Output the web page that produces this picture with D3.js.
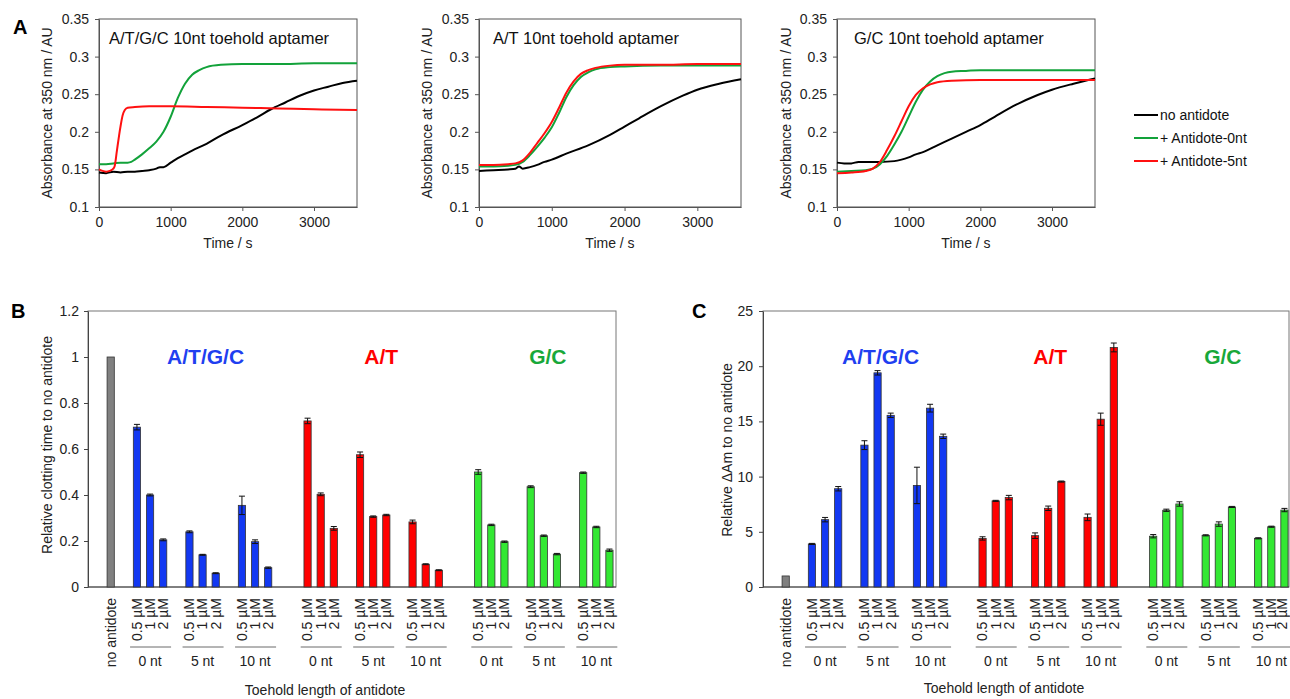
<!DOCTYPE html>
<html><head><meta charset="utf-8">
<script src="https://cdn.jsdelivr.net/npm/d3@7"></script>
<style>body{margin:0;background:#fff}svg{display:block;font-family:"Liberation Sans",Arial,sans-serif}</style>
</head><body><svg id="c" width="1290" height="699"></svg>
<script>
// ---------- Panel A data: [time s, absorbance] ----------
const a1Black=[[0,0.146],[100,0.145],[200,0.147],[300,0.146],[400,0.147],[500,0.147],[600,0.148],[700,0.149],[800,0.151],[850,0.153],[900,0.153],[1000,0.159],[1100,0.165],[1200,0.170],[1300,0.175],[1500,0.184],[1700,0.195],[2000,0.209],[2200,0.219],[2400,0.230],[2600,0.239],[2800,0.248],[3000,0.255],[3200,0.260],[3400,0.265],[3600,0.268]];
const a1Green=[[0,0.157],[100,0.157],[200,0.158],[300,0.159],[400,0.159],[450,0.160],[500,0.163],[600,0.170],[700,0.178],[800,0.187],[900,0.200],[1000,0.220],[1100,0.245],[1200,0.264],[1300,0.276],[1400,0.282],[1500,0.286],[1700,0.289],[2000,0.290],[2500,0.290],[3000,0.291],[3600,0.291]];
const a1Red=[[0,0.150],[50,0.148],[100,0.147],[150,0.148],[200,0.151],[220,0.155],[250,0.175],[280,0.195],[300,0.207],[330,0.222],[360,0.229],[400,0.232],[500,0.233],[700,0.234],[1000,0.234],[1500,0.233],[2000,0.232],[2500,0.231],[3000,0.230],[3600,0.229]];
const a2Black=[[0,0.148],[200,0.149],[400,0.150],[500,0.151],[550,0.154],[600,0.151],[700,0.153],[800,0.156],[900,0.160],[1000,0.163],[1200,0.171],[1500,0.182],[1800,0.196],[2000,0.207],[2200,0.218],[2500,0.234],[2800,0.248],[3000,0.256],[3300,0.264],[3600,0.270]];
const a2Red=[[0,0.156],[200,0.156],[400,0.157],[500,0.158],[600,0.162],[700,0.172],[800,0.185],[900,0.198],[1000,0.213],[1100,0.232],[1200,0.252],[1300,0.267],[1400,0.277],[1500,0.282],[1600,0.285],[1800,0.288],[2000,0.289],[2500,0.289],[3000,0.290],[3600,0.290]];
const a2Green=[[0,0.154],[200,0.154],[400,0.155],[500,0.156],[600,0.160],[700,0.169],[800,0.180],[900,0.192],[1000,0.206],[1100,0.225],[1200,0.246],[1300,0.262],[1400,0.273],[1500,0.279],[1600,0.283],[1800,0.286],[2000,0.287],[2500,0.288],[3000,0.288],[3600,0.288]];
const a3Black=[[0,0.159],[100,0.158],[200,0.158],[300,0.160],[400,0.160],[600,0.160],[800,0.161],[900,0.163],[1000,0.166],[1100,0.170],[1200,0.173],[1400,0.182],[1600,0.191],[1800,0.200],[2000,0.209],[2200,0.220],[2500,0.236],[2800,0.249],[3000,0.256],[3300,0.264],[3600,0.271]];
const a3Red=[[0,0.145],[200,0.146],[400,0.148],[500,0.151],[600,0.160],[700,0.176],[800,0.194],[900,0.214],[1000,0.234],[1100,0.249],[1200,0.258],[1300,0.263],[1400,0.266],[1600,0.268],[2000,0.269],[3000,0.269],[3600,0.269]];
const a3Green=[[0,0.147],[200,0.148],[400,0.149],[500,0.151],[600,0.157],[700,0.168],[800,0.183],[900,0.200],[1000,0.220],[1100,0.240],[1200,0.256],[1300,0.267],[1400,0.274],[1500,0.278],[1600,0.280],[1800,0.281],[2000,0.282],[3000,0.282],[3600,0.282]];
const aTitles=["A/T/G/C 10nt toehold aptamer","A/T 10nt toehold aptamer","G/C 10nt toehold aptamer"];
const legendLabels=["no antidote","+ Antidote-0nt","+ Antidote-5nt"];
const aYTicks=[0.1,0.15,0.2,0.25,0.3,0.35];
const aXTicks=[0,1000,2000,3000];

// ---------- Panels B & C data ----------
const groups=["A/T/G/C","A/T","G/C"];
const toeholds=["0 nt","5 nt","10 nt"];
const concs=["0.5 µM","1 µM","2 µM"];
const clotATGC=[0.695,0.400,0.205,0.240,0.140,0.060,0.355,0.197,0.084];
const clotATGCErr=[0.012,0.004,0.004,0.004,0.002,0.002,0.040,0.008,0.003];
const clotAT=[0.722,0.403,0.255,0.575,0.306,0.313,0.283,0.099,0.073];
const clotATErr=[0.012,0.006,0.008,0.012,0.003,0.003,0.008,0.002,0.002];
const clotGC=[0.500,0.270,0.197,0.436,0.223,0.143,0.497,0.261,0.160];
const clotGCErr=[0.010,0.003,0.003,0.004,0.003,0.003,0.003,0.003,0.005];
const clotNone=1.0;
const dAmATGC=[3.9,6.1,8.9,12.85,19.4,15.55,9.2,16.2,13.65];
const dAmATGCErr=[0.05,0.2,0.2,0.4,0.2,0.2,1.65,0.35,0.2];
const dAmAT=[4.4,7.8,8.1,4.65,7.13,9.55,6.31,15.2,21.7];
const dAmATErr=[0.15,0.05,0.2,0.25,0.2,0.05,0.3,0.55,0.4];
const dAmGC=[4.6,6.95,7.52,4.68,5.7,7.25,4.41,5.46,6.97];
const dAmGCErr=[0.15,0.1,0.2,0.05,0.2,0.05,0.05,0.05,0.15];
const dAmNone=1.0;
const bYTicks=[0,0.2,0.4,0.6,0.8,1,1.2];
const cYTicks=[0,5,10,15,20,25];

// ---------- drawing ----------
const svg=d3.select("#c");
svg.append("rect").attr("width",1290).attr("height",699).attr("fill","#fff");
const LINE={black:"#000",green:"#12a23a",red:"#ff1010"};

function drawA(box,series,title,titleX){
  const x=d3.scaleLinear().domain([0,3600]).range([box.L,box.R]);
  const y=d3.scaleLinear().domain([0.1,0.35]).range([box.B,box.T]);
  const g=svg.append("g");
  g.append("rect").attr("x",box.L).attr("y",box.T).attr("width",box.R-box.L).attr("height",box.B-box.T)
    .attr("fill","none").attr("stroke","#555").attr("stroke-width",1);
  const ya=g.append("g").attr("transform",`translate(${box.L},0)`)
    .call(d3.axisLeft(y).tickValues(aYTicks).tickFormat(d3.format("")).tickSize(4).tickPadding(6).tickSizeOuter(0));
  const xa=g.append("g").attr("transform",`translate(0,${box.B})`)
    .call(d3.axisBottom(x).tickValues(aXTicks).tickFormat(d3.format("d")).tickSize(4).tickPadding(6).tickSizeOuter(0));
  [ya,xa].forEach(a=>{a.selectAll("text").attr("font-size",14).attr("fill","#222").attr("font-family","Liberation Sans, Arial, sans-serif");
    a.select(".domain").attr("stroke","#555");a.selectAll(".tick line").attr("stroke","#555");});
  const line=d3.line().x(d=>x(d[0])).y(d=>y(d[1])).curve(d3.curveMonotoneX);
  series.forEach(s=>{
    g.append("path").datum(s.data).attr("d",line).attr("fill","none").attr("stroke",s.color).attr("stroke-width",2);
  });
  g.append("text").attr("x",titleX).attr("y",box.T+25).attr("font-size",16.5).attr("fill","#111").text(title);
  g.append("text").attr("x",(box.L+box.R)/2).attr("y",box.B+41).attr("text-anchor","middle").attr("font-size",14).attr("fill","#222").text("Time / s");
  g.append("text").attr("transform",`translate(${box.yTitleX},${(box.T+box.B)/2}) rotate(-90)`).attr("text-anchor","middle")
    .attr("dy","0.35em").attr("font-size",14).attr("fill","#222").text("Absorbance at 350 nm / AU");
}
drawA({L:99,R:357,T:19,B:207,yTitleX:47},[{data:a1Black,color:LINE.black},{data:a1Green,color:LINE.green},{data:a1Red,color:LINE.red}],aTitles[0],109);
drawA({L:479,R:741,T:19,B:207,yTitleX:427},[{data:a2Black,color:LINE.black},{data:a2Green,color:LINE.green},{data:a2Red,color:LINE.red}],aTitles[1],493);
drawA({L:837,R:1095,T:19,B:207,yTitleX:786},[{data:a3Black,color:LINE.black},{data:a3Green,color:LINE.green},{data:a3Red,color:LINE.red}],aTitles[2],854);

// legend
const legColors=[LINE.black,LINE.green,LINE.red];
const legY=d3.scalePoint().domain(legendLabels).range([115,161]);
legendLabels.forEach((lab,i)=>{
  svg.append("line").attr("x1",1134).attr("x2",1158).attr("y1",legY(lab)).attr("y2",legY(lab)).attr("stroke",legColors[i]).attr("stroke-width",2);
  svg.append("text").attr("x",1160).attr("y",legY(lab)).attr("dy","0.35em").attr("font-size",14).attr("fill","#111").text(lab);
});

// panel letters
[["A",13,34],["B",11,318],["C",692,318]].forEach(([t,x,y])=>svg.append("text").attr("x",x).attr("y",y).attr("font-size",20).attr("font-weight","bold").attr("fill","#000").text(t));

const BAR={blue:"#1238f2",red:"#ff0000",green:"#33e833",gray:"#808080"};
const TXT={blue:"#1f3ff0",red:"#ff0000",green:"#18a83a"};
const groupColors=["blue","red","green"];

function drawBars(cfg){
  const {L,R,T,B}=cfg;
  const slot=d3.scaleBand().domain(d3.range(40)).range([L+3,L+528]).paddingInner(0.45).paddingOuter(0.225);
  const y=d3.scaleLinear().domain([0,cfg.max]).range([B,T]);
  const g=svg.append("g");
  g.append("rect").attr("x",L).attr("y",T).attr("width",R-L).attr("height",B-T).attr("fill","none").attr("stroke","#777");
  const ya=g.append("g").attr("transform",`translate(${L},0)`)
    .call(d3.axisLeft(y).tickValues(cfg.ticks).tickFormat(d3.format("")).tickSize(4).tickPadding(cfg.pad).tickSizeOuter(0));
  ya.selectAll("text").attr("font-size",14).attr("fill","#222").attr("font-family","Liberation Sans, Arial, sans-serif");
  ya.select(".domain").attr("stroke","#444");ya.selectAll(".tick line").attr("stroke","#444");
  g.append("line").attr("x1",L).attr("x2",R).attr("y1",B).attr("y2",B).attr("stroke","#444");
  const bw=slot.bandwidth();
  const bars=[{i:1,v:cfg.none,e:0,c:BAR.gray}];
  cfg.vals.forEach((arr,gi)=>arr.forEach((v,k)=>{
    const t=Math.floor(k/3),c=k%3;
    bars.push({i:3+gi*13+t*4+c,v:v,e:cfg.errs[gi][k],c:BAR[groupColors[gi]]});
  }));
  bars.forEach(b=>{
    const cx=slot(b.i)+bw/2;
    g.append("rect").attr("x",slot(b.i)).attr("y",y(b.v)).attr("width",bw).attr("height",B-y(b.v))
      .attr("fill",b.c).attr("stroke","#333").attr("stroke-width",0.8);
    if(b.e>0){
      g.append("line").attr("x1",cx).attr("x2",cx).attr("y1",y(b.v+b.e)).attr("y2",y(b.v-b.e)).attr("stroke","#111");
      [b.v+b.e,b.v-b.e].forEach(v=>g.append("line").attr("x1",cx-3).attr("x2",cx+3).attr("y1",y(v)).attr("y2",y(v)).attr("stroke","#111"));
    }
  });
  groups.forEach((gn,gi)=>{
    const cx=(slot(3+gi*13)+slot(3+gi*13+10)+bw)/2;
    g.append("text").attr("x",cx+cfg.gShift[gi]).attr("y",364).attr("text-anchor","middle").attr("font-size",21).attr("font-weight","bold")
      .attr("fill",TXT[groupColors[gi]]).text(gn);
  });
  const rot=(x,txt)=>g.append("text").attr("transform",`translate(${x},598) rotate(-90)`).attr("text-anchor","end").attr("dy","0.35em")
     .attr("font-size",14).attr("fill","#222").text(txt);
  rot(slot(1)+bw/2,"no antidote");
  groups.forEach((gn,gi)=>toeholds.forEach((tn,ti)=>{
    const base=3+gi*13+ti*4;
    concs.forEach((cn,ci)=>rot(Math.min(slot(base+ci)+bw/2,1282),cn));
    const mid=slot(base+1)+bw/2;
    g.append("line").attr("x1",mid-20).attr("x2",Math.min(mid+21,1290)).attr("y1",647).attr("y2",647).attr("stroke","#444").attr("stroke-width",0.8);
    g.append("text").attr("x",mid).attr("y",666).attr("text-anchor","middle").attr("font-size",14).attr("fill","#222").text(tn);
  }));
  g.append("text").attr("x",cfg.titleX).attr("y",cfg.titleY).attr("text-anchor","middle").attr("font-size",14).attr("fill","#222").text("Toehold length of antidote");
  g.append("text").attr("transform",`translate(${cfg.yTitleX},${cfg.yTitleY}) rotate(-90)`).attr("text-anchor","middle").attr("dy","0.35em")
    .attr("font-size",14).attr("fill","#222").text(cfg.yTitle);
}
drawBars({L:88,R:616,T:311,B:587,max:1.2,ticks:bYTicks,pad:5,none:clotNone,vals:[clotATGC,clotAT,clotGC],errs:[clotATGCErr,clotATErr,clotGCErr],
  gShift:[3,8,4],titleX:325,titleY:695,yTitleX:47,yTitleY:445,yTitle:"Relative clotting time to no antidote"});
drawBars({L:763,R:1289,T:311,B:587,max:25,ticks:cYTicks,pad:6,none:dAmNone,vals:[dAmATGC,dAmAT,dAmGC],errs:[dAmATGCErr,dAmATErr,dAmGCErr],
  gShift:[3,2,4],titleX:1004,titleY:693,yTitleX:727,yTitleY:450,yTitle:"Relative ΔAm to no antidote"});
</script></body></html>
